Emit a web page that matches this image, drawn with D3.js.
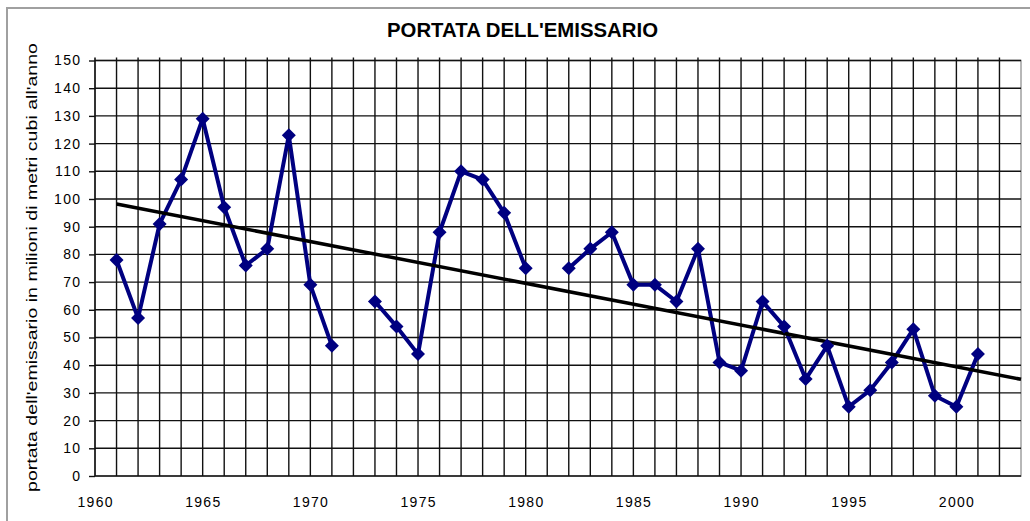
<!DOCTYPE html>
<html lang="it">

<head>
    <meta charset="UTF-8">
    <title>Portata dell'emissario</title>
    <style>
        body { margin: 0; background: #fff; }
        text { font-family: "Liberation Sans", Arial, sans-serif; fill: #000; }
    </style>
</head>

<body>

    <svg id="chart" width="1030" height="521"></svg>

    <script src="https://d3js.org/d3.v7.min.js"></script>

    <script>

        // yearly discharge (null = no data that year)

        var years = [1961, 1962, 1963, 1964, 1965, 1966, 1967, 1968, 1969, 1970,
            1971, 1972, 1973, 1974, 1975, 1976, 1977, 1978, 1979, 1980,
            1981, 1982, 1983, 1984, 1985, 1986, 1987, 1988, 1989, 1990,
            1991, 1992, 1993, 1994, 1995, 1996, 1997, 1998, 1999, 2000, 2001];

        var portata = [78, 57, 91, 107, 129, 97, 76, 82, 123, 69,
            47, null, 63, 54, 44, 88, 110, 107, 95, 75,
            null, 75, 82, 88, 69, 69, 63, 82, 41, 38,
            63, 54, 35, 47, 25, 31, 41, 53, 29, 25, 44];

        // linear trendline, start and end as drawn

        var trendYears = [1961, 2003];
        var trendValues = [98.2, 34.9];

        // axis labels

        var yTickValues = [0, 10, 20, 30, 40, 50, 60, 70, 80, 90, 100, 110, 120, 130, 140, 150];
        var xTickLabels = [1960, 1965, 1970, 1975, 1980, 1985, 1990, 1995, 2000];
        var gridYears = d3.range(1961, 2003);

        // note: "top" is taken by window.top, so plot edges get their own names

        var svg = d3.select("#chart"),
            plotLeft = 95, plotRight = 1021, plotTop = 60.5, plotBottom = 476;

        var x = d3.scaleLinear().domain([1960, 2003]).range([plotLeft, plotRight]),
            y = d3.scaleLinear().domain([0, 150]).range([plotBottom, plotTop]);

        // chart area border (only left and top show in the window)

        svg.append("path")
            .attr("d", "M7,521V8H1030")
            .attr("fill", "none")
            .attr("stroke", "#a0a0a0")
            .attr("stroke-width", 2);

        // title

        svg.append("text")
            .attr("x", 522.5)
            .attr("y", 36.5)
            .attr("text-anchor", "middle")
            .attr("font-size", 20)
            .attr("font-weight", "bold")
            .attr("textLength", 271)
            .attr("lengthAdjust", "spacingAndGlyphs")
            .text("PORTATA DELL'EMISSARIO");

        // plot area border

        svg.append("rect")
            .attr("x", plotLeft).attr("y", plotTop)
            .attr("width", plotRight - plotLeft).attr("height", plotBottom - plotTop)
            .attr("fill", "none")
            .attr("stroke", "#a0a0a0")
            .attr("stroke-width", 1.5);

        // grid: one vertical line per year, one horizontal line per 10

        var grid = svg.append("g")
            .attr("stroke", "#111")
            .attr("stroke-width", 1.4);

        grid.selectAll(".vgrid")
            .data(gridYears)
            .enter().append("line")
            .attr("x1", function(d) { return x(d); })
            .attr("x2", function(d) { return x(d); })
            .attr("y1", plotTop - 3)
            .attr("y2", plotBottom);

        grid.selectAll(".hgrid")
            .data(yTickValues)
            .enter().append("line")
            .attr("x1", plotLeft)
            .attr("x2", plotRight)
            .attr("y1", function(d) { return y(d); })
            .attr("y2", function(d) { return y(d); });

        // y axis with ticks and labels

        var yAxis = svg.append("g")
            .attr("transform", "translate(" + plotLeft + ",0)")
            .call(d3.axisLeft(y).tickValues(yTickValues).tickSize(6).tickPadding(9));

        yAxis.select(".domain").attr("d", "M0," + (plotTop - 3) + "V" + plotBottom)
            .attr("stroke", "#111").attr("stroke-width", 1.6);
        yAxis.selectAll(".tick line").attr("stroke", "#111").attr("stroke-width", 1.4);
        yAxis.selectAll(".tick text")
            .attr("font-size", 14)
            .attr("font-family", "Liberation Sans, Arial, sans-serif")
            .attr("letter-spacing", 1.3)
            .attr("dx", 1.3);

        // x labels

        svg.selectAll(".xlabel")
            .data(xTickLabels)
            .enter().append("text")
            .attr("x", function(d) { return x(d); })
            .attr("y", 506.5)
            .attr("text-anchor", "middle")
            .attr("font-size", 14)
            .attr("letter-spacing", 1.3)
            .attr("dx", 0.65)
            .text(function(d) { return d; });

        // y axis title

        svg.append("text")
            .attr("transform", "translate(37,267.5) rotate(-90)")
            .attr("text-anchor", "middle")
            .attr("font-size", 14)
            .attr("textLength", 449)
            .attr("lengthAdjust", "spacingAndGlyphs")
            .text("portata dell'emissario in milioni di metri cubi all'anno");

        // data series

        var points = years.map(function(d, i) { return { year: d, value: portata[i] }; });

        var line = d3.line()
            .defined(function(d) { return d.value != null; })
            .x(function(d) { return x(d.year); })
            .y(function(d) { return y(d.value); });

        svg.append("path")
            .datum(points)
            .attr("d", line)
            .attr("fill", "none")
            .attr("stroke", "#000080")
            .attr("stroke-width", 4)
            .attr("stroke-linejoin", "round");

        // trendline

        svg.append("line")
            .attr("x1", x(trendYears[0]))
            .attr("y1", y(trendValues[0]))
            .attr("x2", x(trendYears[1]))
            .attr("y2", y(trendValues[1]))
            .attr("stroke", "#000")
            .attr("stroke-width", 3.5);

        // diamond markers

        var diamond = d3.symbol().type(d3.symbolSquare).size(98);

        svg.selectAll(".marker")
            .data(points.filter(function(d) { return d.value != null; }))
            .enter().append("path")
            .attr("d", diamond)
            .attr("transform", function(d) {
                return "translate(" + x(d.year) + "," + y(d.value) + ") rotate(45)";
            })
            .attr("fill", "#000080");

    </script>

</body>

</html>
